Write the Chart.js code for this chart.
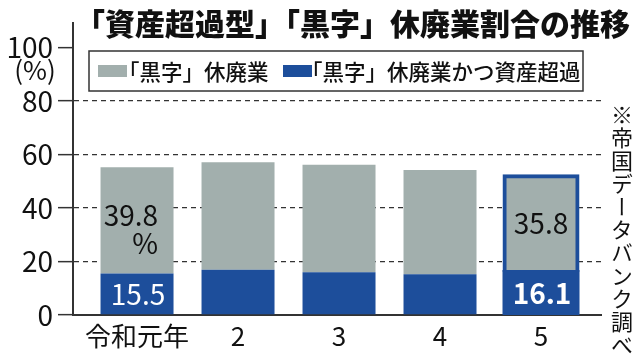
<!DOCTYPE html>
<html lang="ja">
<head>
<meta charset="utf-8">
<script src="https://cdn.jsdelivr.net/npm/chart.js@4/dist/chart.umd.min.js"></script>
<style>
html,body{margin:0;padding:0;background:#fff;}
#wrap{position:relative;width:640px;height:357px;overflow:hidden;}
#note{position:absolute;left:611px;top:104px;writing-mode:vertical-rl;font-family:"Noto Sans CJK JP";font-size:22px;letter-spacing:1px;line-height:22px;color:#111;white-space:nowrap;}
</style>
</head>
<body>
<div id="wrap"><canvas id="c" width="640" height="357"></canvas><div id="note"></div></div>
<script>
// ---- data ----
const TITLE = '「資産超過型」「黒字」休廃業割合の推移';
const categories = ['令和元年', '2', '3', '4', '5'];
const seriesBlue = [15.5, 16.9, 16.0, 15.2, 16.1];   // 「黒字」休廃業かつ資産超過
const seriesGray = [39.8, 40.2, 40.2, 39.0, 35.8];   // 「黒字」休廃業 (remainder above blue)
const labelBlue = '「黒字」休廃業かつ資産超過';
const labelGray = '「黒字」休廃業';
const yTicks = [0, 20, 40, 60, 80, 100];
const blueText = ['15.5', '', '', '', '16.1'];
const grayText = [['39.8', '%'], [], [], [], ['35.8']];
const unitLabel = '(%)';
const sourceNote = '※帝国データバンク調べ';
const HIGHLIGHT = 4;

// ---- style ----
const FONT = '"Noto Sans CJK JP", "Noto Sans", sans-serif';
const BLUE = '#1d4e9b';
const GRAY = '#a2afad';
const INK = '#111';
const LINE = '#333';

document.getElementById('note').textContent = sourceNote;

const titlePlugin = {
  id: 'titleText',
  afterDraw(chart) {
    const ctx = chart.ctx;
    ctx.save();
    ctx.fillStyle = INK;
    ctx.textBaseline = 'middle';
    ctx.textAlign = 'left';
    ctx.font = '900 30px ' + FONT;
    ctx.fillText(TITLE, 75, 24);
    ctx.textAlign = 'center';
    ctx.font = '26px ' + FONT;
    ctx.fillText(unitLabel, 35, 70);
    ctx.restore();
  }
};

const legendPlugin = {
  id: 'boxLegend',
  afterDraw(chart) {
    const ctx = chart.ctx;
    const ds = chart.data.datasets;
    const items = [ds[1], ds[0]];
    const swX = [98, 283];
    const txX = [118, 301];
    ctx.save();
    ctx.fillStyle = '#fff';
    ctx.fillRect(89, 51, 494, 40);
    ctx.strokeStyle = LINE;
    ctx.lineWidth = 1.5;
    ctx.strokeRect(89, 51, 494, 40);
    ctx.font = '500 21.5px ' + FONT;
    ctx.textBaseline = 'middle';
    ctx.textAlign = 'left';
    items.forEach((d, i) => {
      ctx.fillStyle = d.backgroundColor;
      ctx.fillRect(swX[i], 65, 29, 12);
      ctx.fillStyle = INK;
      ctx.fillText(d.label, txX[i], 71.5);
    });
    ctx.restore();
  }
};

const valuePlugin = {
  id: 'valueLabels',
  afterDatasetsDraw(chart) {
    const ctx = chart.ctx;
    ctx.save();
    ctx.textBaseline = 'middle';
    const mBlue = chart.getDatasetMeta(0).data;
    const mGray = chart.getDatasetMeta(1).data;
    mBlue.forEach((el, i) => {
      if (!blueText[i]) return;
      const mid = (el.y + el.base) / 2;
      ctx.fillStyle = '#fff';
      ctx.textAlign = 'center';
      ctx.font = (i === HIGHLIGHT ? 'bold ' : '') + '28px ' + FONT;
      ctx.fillText(blueText[i], el.x + 1, mid);
    });
    mGray.forEach((el, i) => {
      const lines = grayText[i];
      if (!lines || !lines.length) return;
      const mid = (el.y + el.base) / 2;
      ctx.fillStyle = INK;
      ctx.font = '28px ' + FONT;
      if (lines.length === 1) {
        ctx.textAlign = 'center';
        ctx.fillText(lines[0], el.x, mid - 1);
      } else {
        ctx.textAlign = 'right';
        lines.forEach((t, k) => ctx.fillText(t, el.x + 21, mid - 5 + k * 28));
      }
    });
    ctx.restore();
  }
};

const inflate = c => (c.dataIndex === HIGHLIGHT ? 2 : 0);

new Chart(document.getElementById('c'), {
  type: 'bar',
  data: {
    datasets: [
      {
        label: labelBlue,
        data: seriesBlue.map((v, i) => ({ x: i, y: v })),
        backgroundColor: BLUE,
        borderWidth: 0,
        barThickness: 73,
        inflateAmount: inflate
      },
      {
        label: labelGray,
        data: seriesGray.map((v, i) => ({ x: i, y: v })),
        backgroundColor: GRAY,
        borderColor: BLUE,
        borderWidth: c => (c.dataIndex === HIGHLIGHT ? { top: 4, left: 4, right: 4, bottom: 0 } : 0),
        barThickness: 73,
        inflateAmount: inflate
      }
    ]
  },
  options: {
    responsive: false,
    animation: false,
    events: [],
    layout: { padding: { top: 23, right: 39, left: 0, bottom: 0 } },
    plugins: { legend: { display: false }, title: { display: false }, tooltip: { enabled: false } },
    scales: {
      x: {
        type: 'linear',
        offset: false,
        stacked: true,
        min: -0.634,
        max: 4.594,
        afterBuildTicks: s => { s.ticks = categories.map((_, i) => ({ value: i })); },
        afterFit: s => { s.height = 42; },
        ticks: {
          callback: v => categories[v],
          font: { family: FONT, size: 26 },
          color: INK,
          padding: 6,
          autoSkip: false,
          maxRotation: 0
        },
        grid: { display: false, drawTicks: false, offset: false },
        border: { display: true, color: LINE, width: 2 }
      },
      y: {
        stacked: true,
        min: 0,
        max: 109.2,
        afterBuildTicks: s => { s.ticks = yTicks.map(v => ({ value: v })); },
        afterFit: s => { s.width = 73; },
        ticks: { font: { family: FONT, size: 28 }, color: INK, padding: 5 },
        grid: {
          color: c => (c.tick && (c.tick.value === 0 || c.tick.value === 100)) ? 'rgba(0,0,0,0)' : LINE,
          lineWidth: 1.3,
          drawTicks: true,
          tickLength: 15,
          tickColor: LINE,
          tickWidth: 1.5
        },
        border: { display: true, color: LINE, width: 2, dash: [5, 4] }
      }
    }
  },
  plugins: [titlePlugin, legendPlugin, valuePlugin]
});
</script>
</body>
</html>
